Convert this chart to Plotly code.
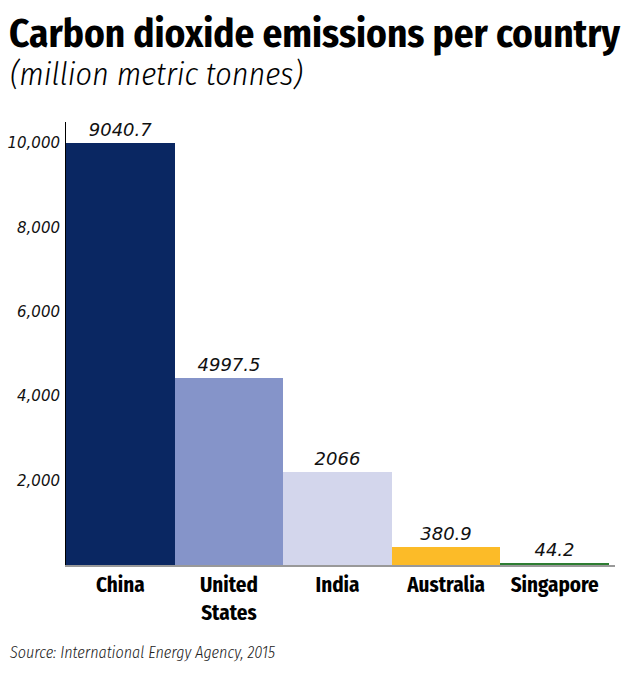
import plotly.graph_objects as go

# Data
countries = ["China", "United<br>States", "India", "Australia", "Singapore"]
bar_heights = [10000, 4424, 2211, 419, 50]          # bar tops as drawn against the axis
value_labels = ["9040.7", "4997.5", "2066", "380.9", "44.2"]  # printed values
bar_colors = ["#0a2762", "#8594c9", "#d3d6ec", "#fcbb28", "#2e7d32"]
tick_values = [2000, 4000, 6000, 8000, 10000]
tick_labels = ["2,000", "4,000", "6,000", "8,000", "10,000"]

title_text = "Carbon dioxide emissions per country"
subtitle_text = "(million metric tonnes)"
source_text = "Source: International Energy Agency, 2015"

COND = "Fira Sans Condensed, Barlow Semi Condensed, Archivo Narrow, Liberation Sans Narrow, sans-serif"

fig = go.Figure(
    go.Bar(
        x=countries,
        y=bar_heights,
        marker=dict(color=bar_colors, line=dict(width=0)),
        text=value_labels,
        textposition="outside",
        textfont=dict(family="DejaVu Sans", size=18, color="#111", style="italic"),
        cliponaxis=False,
        hoverinfo="skip",
    )
)

fig.update_layout(
    width=640,
    height=676,
    paper_bgcolor="white",
    plot_bgcolor="white",
    margin=dict(l=66, r=25, t=122, b=111, autoexpand=False),
    bargap=0,
    showlegend=False,
    title=dict(
        text=title_text,
        font=dict(family=COND, size=39, color="#000", weight=700),
        x=9 / 640,
        xanchor="left",
        xref="container",
        y=1 - 33 / 676,
        yanchor="middle",
        yref="container",
    ),
    annotations=[
        dict(
            text=subtitle_text,
            xref="paper", yref="paper",
            x=(8 - 66) / 549, y=1 + (122 - 74) / 443,
            xanchor="left", yanchor="middle",
            showarrow=False,
            font=dict(family=COND, size=32, color="#000", style="italic", weight=300),
        ),
        dict(
            text=source_text,
            xref="paper", yref="paper",
            x=(8 - 66) / 549, y=-(652 - 565) / 443,
            xanchor="left", yanchor="middle",
            showarrow=False,
            font=dict(family=COND, size=16, color="#222", style="italic", weight=300),
        ),
    ],
)

fig.update_xaxes(
    range=[-0.5, 4.555],
    automargin=False,
    showline=True,
    linecolor="#999999",
    linewidth=2,
    ticks="",
    showgrid=False,
    zeroline=False,
    tickfont=dict(family=COND, size=21, color="#000", weight=700),
    ticklabelstandoff=0,
)

fig.update_yaxes(
    range=[0, 10500],
    automargin=False,
    tickvals=tick_values,
    ticktext=tick_labels,
    showline=True,
    linecolor="#000000",
    linewidth=1,
    ticks="",
    showgrid=False,
    zeroline=False,
    tickfont=dict(family="DejaVu Sans", size=15, color="#111", style="italic"),
    ticklabelstandoff=2,
)

fig.write_html(
    "out.html",
    config={"displayModeBar": False},
    post_script="document.body.style.margin='0';",
)
